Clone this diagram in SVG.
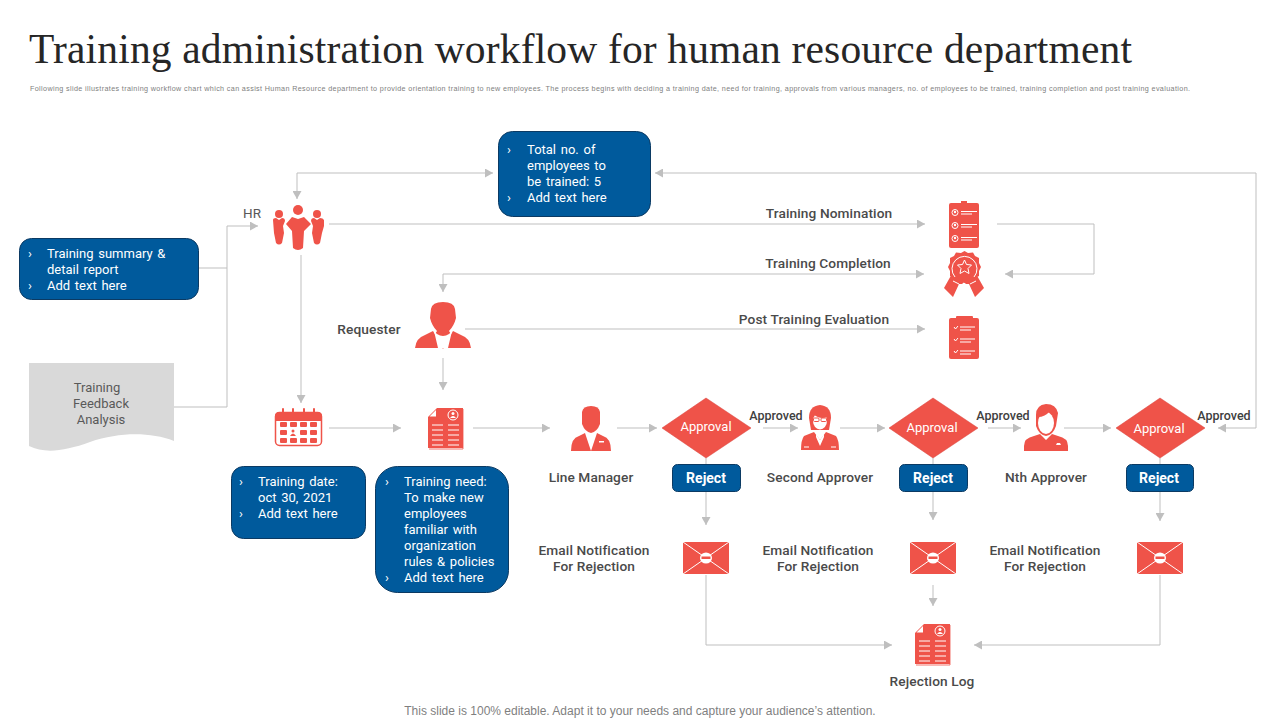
<svg xmlns="http://www.w3.org/2000/svg" xmlns:xlink="http://www.w3.org/1999/xlink" width="1280" height="720" viewBox="0 0 1280 720">
<style>
text{font-family:Roboto,"Liberation Sans",sans-serif}
.title{font-family:"Liberation Serif",serif;font-size:41.500px;fill:#262626}
.sub{font-family:"Liberation Sans",sans-serif;font-size:7.200px;fill:#808080}
.foot{font-family:"Liberation Sans",sans-serif;font-size:12px;fill:#7f7f7f}
.lbl{font-size:13.700px;font-weight:500;fill:#4a4a4a;text-anchor:middle;letter-spacing:.1px}
.lbls{font-size:12.500px;font-weight:500;fill:#404040;text-anchor:middle}
.box{fill:#005a9c;stroke:#0b3a63;stroke-width:1}
.bt{font-size:13px;fill:#fff;word-spacing:1.500px}
.rej{font-size:14px;font-weight:700;fill:#fff;text-anchor:middle}
.dia{fill:#ef5349;stroke:#d9403a;stroke-width:.5}
.dt{font-family:Roboto,sans-serif;font-size:13px;font-weight:400;fill:#fff;text-anchor:middle}
.ft{font-size:13px;fill:#595959;text-anchor:middle}
.c{fill:none;stroke:#bfbfbf;stroke-width:1}
.ic{fill:#ef5349}
.w{fill:none;stroke:#fff;stroke-width:1}
.wf{fill:#fff}
</style>
<defs>
<marker id="a" markerUnits="userSpaceOnUse" markerWidth="9" markerHeight="9" refX="8" refY="4.500" orient="auto-start-reverse"><path d="M0,0L8,4.500L0,9Z" fill="#bfbfbf"/></marker>
<g id="doc">
<path class="ic" d="M9,1H35V41H0V10Z" transform="translate(1,1)"/>
<path d="M36,3V43H2" fill="none" stroke="#ef5349" stroke-width=".8"/>
<path class="wf" d="M2.500,10.500L9,10.500L9,4Z"/>
<circle class="w" cx="26" cy="9" r="5"/><circle class="wf" cx="26" cy="7.500" r="1.500"/><path class="wf" d="M23,12q3,-4 6,0Z"/>
<path class="w" d="M5,19H16M21,19H32M5,24H16M21,24H32M5,29H16M21,29H32M5,34H16M21,34H32M5,39H16M21,39H32" stroke-width=".9"/>
</g>
<g id="env">
<rect class="ic" x="0" y="0" width="46" height="32"/>
<path class="w" d="M0,0L46,32M46,0L0,32" stroke-width=".9"/>
<ellipse class="wf" cx="23" cy="16" rx="6" ry="5.500"/>
<rect class="ic" x="18.500" y="14.500" width="9" height="2.500"/>
</g>
</defs>
<rect width="1280" height="720" fill="#fff"/>
<text class="title" x="29" y="63" textLength="1103" lengthAdjust="spacing">Training administration workflow for human resource department</text>
<text class="sub" x="30" y="91" textLength="1160" lengthAdjust="spacing">Following slide illustrates training workflow chart which can assist Human Resource department to provide orientation training to new employees. The process begins with deciding a training date, need for training, approvals from various managers, no. of employees to be trained, training completion and post training evaluation.</text>

<g id="connectors">
<path class="c" d="M297,199V173H493" marker-start="url(#a)" marker-end="url(#a)"/>
<path class="c" d="M1218,428H1256V173H655" marker-start="url(#a)" marker-end="url(#a)"/>
<path class="c" d="M199,268H227"/>
<path class="c" d="M174,407H227V226H258" marker-end="url(#a)"/>
<path class="c" d="M329,224H925" marker-end="url(#a)"/>
<path class="c" d="M301,255V403" marker-end="url(#a)"/>
<path class="c" d="M997,224H1094V274H1005" marker-end="url(#a)"/>
<path class="c" d="M924,274H443V292" marker-start="url(#a)" marker-end="url(#a)"/>
<path class="c" d="M465,329H925" marker-end="url(#a)"/>
<path class="c" d="M443,358V390" marker-end="url(#a)"/>
<path class="c" d="M329,428H401" marker-end="url(#a)"/>
<path class="c" d="M473,428H550" marker-end="url(#a)"/>
<path class="c" d="M617,428H657" marker-end="url(#a)"/>
<path class="c" d="M763,428H798" marker-end="url(#a)"/>
<path class="c" d="M840,428H885" marker-end="url(#a)"/>
<path class="c" d="M988,428H1021" marker-end="url(#a)"/>
<path class="c" d="M1064,428H1111" marker-end="url(#a)"/>
<path class="c" d="M706,458V464M933,458V464M1160,458V464"/>
<path class="c" d="M706,492V525" marker-end="url(#a)"/>
<path class="c" d="M933,492V520" marker-end="url(#a)"/>
<path class="c" d="M1160,492V521" marker-end="url(#a)"/>
<path class="c" d="M933,585V606" marker-end="url(#a)"/>
<path class="c" d="M706,575V645H892" marker-end="url(#a)"/>
<path class="c" d="M1160,575V645H974" marker-end="url(#a)"/>
</g>

<text class="lbl" x="829" y="218" id="label-nomination">Training Nomination</text>
<text class="lbl" x="828" y="268" id="label-completion">Training Completion</text>
<text class="lbl" x="814" y="324" id="label-evaluation">Post Training Evaluation</text>

<g id="node-total"><rect class="box" x="498.500" y="131.500" width="152" height="85" rx="14"/>
<text class="bt" x="507" y="154">›</text><text class="bt" x="527" y="154">Total no. of</text><text class="bt" x="527" y="170">employees to</text><text class="bt" x="527" y="186">be trained: 5</text><text class="bt" x="507" y="202">›</text><text class="bt" x="527" y="202">Add text here</text></g>
<g id="node-summary"><rect class="box" x="19.500" y="238.500" width="179" height="61" rx="12"/>
<text class="bt" x="28" y="258">›</text><text class="bt" x="47" y="258">Training summary &amp;</text><text class="bt" x="47" y="274">detail report</text><text class="bt" x="28" y="290">›</text><text class="bt" x="47" y="290">Add text here</text></g>
<g id="node-feedback"><path d="M29,363H174V441C150,432 120,432 90,442C65,451 45,454 29,446Z" fill="#d9d9d9"/>
<text class="ft" x="97" y="392">Training</text><text class="ft" x="101" y="408">Feedback</text><text class="ft" x="101" y="424">Analysis</text></g>

<g id="node-hr">
<text class="lbls" x="252" y="218" style="font-weight:400;fill:#595959;font-size:13.500px">HR</text>
<g class="ic">
<circle cx="279" cy="214" r="4"/><path d="M273,220Q273,218 276,218L279,220L282,218Q285,218 285,221L283,226L284,233L282,243Q279,246 276,243L274,233Z"/>
<circle cx="317" cy="214" r="4"/><path d="M311,221Q311,218 314,218L317,220L320,218Q323,218 324,220L324,226L322,233L320,243Q317,246 314,243L312,233L313,226Z"/>
<circle cx="298" cy="210" r="5"/><path d="M292,217L298,219L304,217L311,224L304,231L303,248Q298,252 293,248L292,231L286,224Z"/>
</g></g>
<text class="lbl" x="369" y="334" id="label-requester">Requester</text>
<g id="node-requester"><path class="ic" d="M431,309Q432,302 443,302Q454,302 455,309L456,318Q454,326 449,331L451,334L443,349L435,334L437,331Q432,326 430,318Z"/>
<path class="ic" d="M433,331L443,348H415Q416,338 425,335Z"/><path class="ic" d="M453,331L443,348H471Q470,338 461,335Z"/><path class="wf" d="M434,331L438,348H448L452,331L449,334Q443,338 437,334Z"/></g>

<g id="node-nomination"><rect class="ic" x="949" y="203" width="30" height="45" rx="2"/><rect class="ic" x="961" y="201" width="6" height="3"/>
<circle class="w" cx="955" cy="212.500" r="3"/><circle class="w" cx="955" cy="225.500" r="3"/><circle class="w" cx="955" cy="238.500" r="3"/>
<circle class="wf" cx="955" cy="212" r="1.200"/><circle class="wf" cx="955" cy="225" r="1.200"/><circle class="wf" cx="955" cy="238" r="1.200"/>
<path class="w" d="M961,211.500H977M961,214H972M961,224.500H977M961,227H972M961,237.500H977M961,240H972"/></g>
<g id="node-completion"><path class="ic" d="M953,272L944,288L953,297L959,284H966ZM975,272L984,288L975,297L969,284H962Z"/>
<path class="ic" d="M964.500,251L968,253L973,252.500L975,256L979,258L979,263L981,267L979,271L979,276L975,278L973,281L968,281L964.500,283L961,281L956,281L954,278L950,276L950,271L948,267L950,263L950,258L954,256L956,252.500L961,253Z"/>
<path class="w" d="M955,277A12.500,12.500 0 1 1 974,277" stroke-width=".8"/><path class="w" d="M964.500,260L966.500,264.500L971.500,265L968,268.500L969,273.500L964.500,271L960,273.500L961,268.500L957.500,265L962.500,264.500Z"/>
<path class="w" d="M953,281L959,284M976,281L970,284" stroke-width=".8"/></g>
<g id="node-evaluation"><rect class="ic" x="949" y="318" width="30" height="41" rx="2"/><rect class="ic" x="956" y="316" width="17" height="6" rx="1"/>
<path class="w" d="M954,327L955.500,329L958,326M954,339L955.500,341L958,338M954,351L955.500,353L958,350M960,327H975M960,330H971M960,339H975M960,342H971M960,351H975M960,354H971"/></g>

<g id="node-calendar"><rect x="275.500" y="412.500" width="46" height="33" rx="4" fill="#fff" stroke="#ef5349" stroke-width="1.500"/>
<path class="ic" d="M275,416Q275,412 279,412H318Q322,412 322,416V421H275Z"/>
<path d="M283,409V417M293,409V417M304,409V417M314,409V417" stroke="#ef5349" stroke-width="2" stroke-linecap="round"/>
<g class="ic"><rect x="280" y="422" width="7" height="5" rx="1"/><rect x="290" y="422" width="7" height="5" rx="1"/><rect x="300" y="422" width="7" height="5" rx="1"/><rect x="310" y="422" width="7" height="5" rx="1"/>
<rect x="280" y="430" width="7" height="5" rx="1"/><circle cx="293" cy="431" r="1.500"/><path d="M290,436Q293,431 296,436Z"/><rect x="300" y="430" width="7" height="5" rx="1"/><rect x="310" y="430" width="7" height="5" rx="1"/>
<rect x="280" y="438" width="7" height="5" rx="1"/><rect x="290" y="438" width="7" height="5" rx="1"/><rect x="300" y="438" width="7" height="5" rx="1"/><rect x="310" y="438" width="7" height="5" rx="1"/></g></g>
<g id="node-need-doc"><use xlink:href="#doc" href="#doc" x="427" y="406"/></g>

<g id="node-date"><rect class="box" x="231.500" y="466.500" width="134" height="72" rx="12"/>
<text class="bt" x="239" y="486">›</text><text class="bt" x="258" y="486">Training date:</text><text class="bt" x="258" y="502">oct 30, 2021</text><text class="bt" x="239" y="518">›</text><text class="bt" x="258" y="518">Add text here</text></g>
<g id="node-need"><rect class="box" x="375.500" y="466.500" width="133" height="126" rx="22"/>
<text class="bt" x="385" y="486">›</text><text class="bt" x="404" y="486">Training need:</text><text class="bt" x="404" y="502">To make new</text><text class="bt" x="404" y="518">employees</text><text class="bt" x="404" y="534">familiar with</text><text class="bt" x="404" y="550">organization</text><text class="bt" x="404" y="566">rules &amp; policies</text><text class="bt" x="385" y="582">›</text><text class="bt" x="404" y="582">Add text here</text></g>

<g id="node-line-manager"><path class="ic" d="M582,412Q583,406 591,406Q599,406 600,412L600,424Q597,432 591,433Q585,432 582,424Z"/>
<path class="ic" d="M585,433L591,451H571Q571,438 579,436ZM597,433L591,451H611Q611,438 603,436Z"/><path class="wf" d="M599,441h5v1.500h-5z"/>
<text class="lbl" x="591" y="482">Line Manager</text></g>
<g id="node-approval1"><path class="dia" d="M706,398L751,428L706,458L662,428Z"/><text class="dt" x="706" y="431">Approval</text></g>
<text class="lbls" x="776" y="420" id="label-approved1">Approved</text>
<g id="node-second"><path class="ic" d="M820,405Q831,406 831,418L829,430H811L809,418Q809,406 820,405Z"/>
<ellipse class="wf" cx="820" cy="421" rx="7" ry="8.500"/><path class="ic" d="M813,414Q820,420 827,417V412H813Z"/>
<rect x="813.500" y="418" width="5.500" height="3.500" rx="1" fill="#fff" stroke="#ef5349"/><rect x="821" y="418" width="5.500" height="3.500" rx="1" fill="#fff" stroke="#ef5349"/>
<path class="ic" d="M814,432L820,440L826,432L836,436Q839,440 839,450H801Q801,440 804,436Z"/><path class="wf" d="M816,434L820,440L824,434L824,437L820,446L816,437Z"/>
<path class="w" d="M804,447H809M831,447H836"/>
<text class="lbl" x="820" y="482">Second Approver</text></g>
<g id="node-approval2"><path class="dia" d="M933,398L978,428L933,458L889,428Z"/><text class="dt" x="932" y="432">Approval</text></g>
<text class="lbls" x="1003" y="420" id="label-approved2">Approved</text>
<g id="node-nth"><path class="ic" d="M1046,404Q1056,404 1058,413L1056,426Q1053,435 1046,436Q1039,435 1036,426L1036,415Q1036,405 1046,404Z"/>
<ellipse class="wf" cx="1046" cy="423" rx="8" ry="11"/><path class="ic" d="M1038,417Q1045,417 1050,411L1054,417V408H1038Z"/>
<path class="ic" d="M1040,434L1046,440L1052,434L1058,436Q1068,438 1068,446V451H1024V446Q1024,438 1034,436Z"/><path class="wf" d="M1056,445h5l-1,-2h-3z"/>
<text class="lbl" x="1046" y="482">Nth Approver</text></g>
<g id="node-approval3"><path class="dia" d="M1160,398L1205,428L1160,458L1116,428Z"/><text class="dt" x="1159" y="433">Approval</text></g>
<text class="lbls" x="1224" y="420" id="label-approved3">Approved</text>

<g id="node-reject1"><rect class="box" x="672.500" y="464.500" width="68" height="27" rx="5"/><text class="rej" x="706" y="483">Reject</text></g>
<g id="node-reject2"><rect class="box" x="899.500" y="464.500" width="68" height="27" rx="5"/><text class="rej" x="933" y="483">Reject</text></g>
<g id="node-reject3"><rect class="box" x="1126.500" y="464.500" width="67" height="27" rx="5"/><text class="rej" x="1159" y="483">Reject</text></g>

<g id="node-email1"><text class="lbl" x="594" y="555">Email Notification</text><text class="lbl" x="594" y="571">For Rejection</text><use xlink:href="#env" href="#env" x="683" y="542"/></g>
<g id="node-email2"><text class="lbl" x="818" y="555">Email Notification</text><text class="lbl" x="818" y="571">For Rejection</text><use xlink:href="#env" href="#env" x="910" y="542"/></g>
<g id="node-email3"><text class="lbl" x="1045" y="555">Email Notification</text><text class="lbl" x="1045" y="571">For Rejection</text><use xlink:href="#env" href="#env" x="1137" y="542"/></g>
<g id="node-log"><use xlink:href="#doc" href="#doc" x="914" y="622"/><text class="lbl" x="932" y="686">Rejection Log</text></g>
<text class="foot" x="640" y="715" text-anchor="middle">This slide is 100% editable. Adapt it to your needs and capture your audience’s attention.</text>
</svg>
